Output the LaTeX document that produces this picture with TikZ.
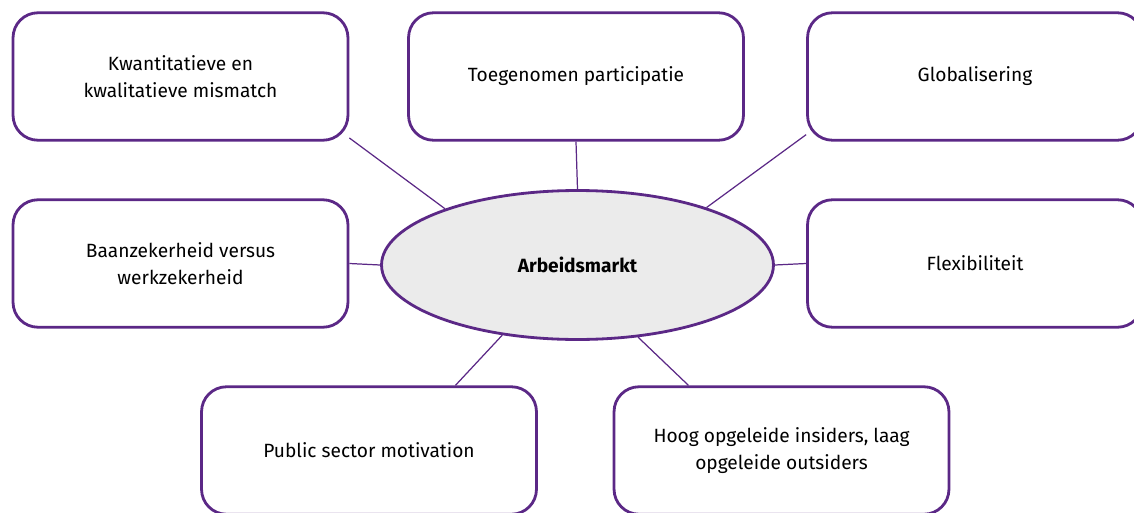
\documentclass[tikz,border=0pt]{standalone}
\usepackage{fontspec}
\setmainfont{Fira Sans}
\usetikzlibrary{shapes.geometric}
\definecolor{paars}{RGB}{91,40,134}
\definecolor{lichtgrijs}{RGB}{235,235,235}

\begin{document}
\begin{tikzpicture}[x=0.02cm, y=0.02cm,
    thema/.style={draw=paars, line width=1.6pt, rounded corners=0.5cm, fill=white,
        minimum width=6.7cm, minimum height=2.55cm, align=center,
        font=\fontsize{10.9}{15.5}\selectfont},
    kern/.style={draw=paars, line width=1.6pt, ellipse, fill=lichtgrijs, inner sep=0pt,
        minimum width=7.84cm, minimum height=2.98cm, font=\fontsize{10.9}{15.5}\selectfont\bfseries},
    lijn/.style={draw=paars, line width=0.7pt}]
    \useasboundingbox (0,0) rectangle (1134,512);
    \clip (0,0) rectangle (1134,512);

    % draw centre
    \node[kern] (arbeid) at (577.5,247) {Arbeidsmarkt};

    % draw boxes
    \node[thema] (mismatch) at (180.5,435.5) {Kwantitatieve en\\kwalitatieve mismatch};
    \node[thema] (participatie) at (576,435.5) {Toegenomen participatie};
    \node[thema] (globalisering) at (975,435.5) {Globalisering};
    \node[thema] (zekerheid) at (180.5,248.5) {Baanzekerheid versus\\werkzekerheid};
    \node[thema] (flex) at (975,248.5) {Flexibiliteit};
    \node[thema] (publiek) at (369,61.5) {Public sector motivation};
    \node[thema] (insiders) at (781.5,61.5) {Hoog opgeleide insiders, laag\\opgeleide outsiders};

    % draw connectors
    \draw[lijn] (mismatch.-20) -- (arbeid.157);
    \draw[lijn] (participatie.south) -- (arbeid.north);
    \draw[lijn] (globalisering.199) -- (arbeid.24);
    \draw[lijn] (zekerheid.east) -- (arbeid.west);
    \draw[lijn] (flex.west) -- (arbeid.east);
    \draw[lijn] (publiek.37) -- (arbeid.223);
    \draw[lijn] (insiders.145) -- (arbeid.310);

\end{tikzpicture}
\end{document}
